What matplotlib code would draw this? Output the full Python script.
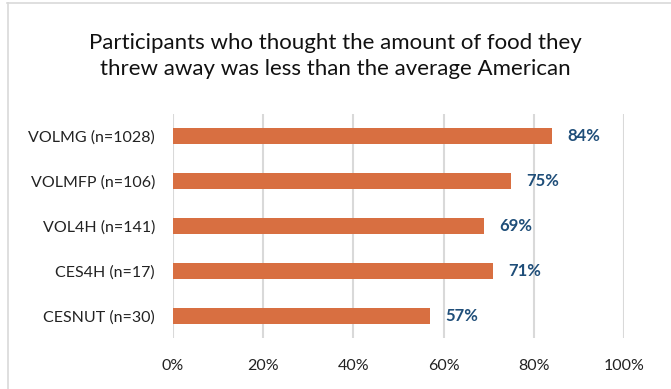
import matplotlib
matplotlib.use("Agg")
import matplotlib.pyplot as plt
from matplotlib.lines import Line2D

categories = ["VOLMG (n=1028)", "VOLMFP (n=106)", "VOL4H (n=141)", "CES4H (n=17)", "CESNUT (n=30)"]
values = [84, 75, 69, 71, 57]
xticks = [0, 20, 40, 60, 80, 100]
xticklabels = ["0%", "20%", "40%", "60%", "80%", "100%"]
title = "Participants who thought the amount of food they\nthrew away was less than the average American"

plt.rcParams['font.family'] = ['Lato', 'DejaVu Sans']

fig = plt.figure(figsize=(6.71, 3.89), dpi=100)
ax = fig.add_axes([173/671, 51/389, 451/671, 224/389])

ypos = list(range(len(categories)))[::-1]
ax.barh(ypos, values, height=0.36, color="#D86F41", zorder=3)
for y, v in zip(ypos, values):
    ax.annotate(f"{v}%", (v, y), xytext=(11, 0), textcoords="offset points",
                va="center", ha="left", fontsize=12, fontweight="bold", color="#1F4E79")

ax.set_xlim(0, 100)
ax.set_ylim(-0.5, len(categories) - 0.5)
ax.set_xticks(xticks)
ax.set_xticklabels(xticklabels, fontsize=11.5, color="#222222")
ax.set_yticks(ypos)
ax.set_yticklabels(categories, fontsize=11.5, color="#222222")
ax.tick_params(axis="both", length=0)
ax.tick_params(axis="x", pad=15)
ax.tick_params(axis="y", pad=13)
ax.grid(axis="x", color="#D9D9D9", linewidth=1.5, zorder=0)
for s in ax.spines.values():
    s.set_visible(False)

fig.text(0.5, 1 - 56/389, title, ha="center", va="center", fontsize=16, color="#111111", linespacing=1.4)

fig.add_artist(Line2D([7/671, 1], [1 - 2.5/389, 1 - 2.5/389], color="#D9D9D9", linewidth=1.2, transform=fig.transFigure))
fig.add_artist(Line2D([7.5/671, 7.5/671], [0, 1 - 2.5/389], color="#D9D9D9", linewidth=1.2, transform=fig.transFigure))

fig.savefig("out.png", dpi=100)
